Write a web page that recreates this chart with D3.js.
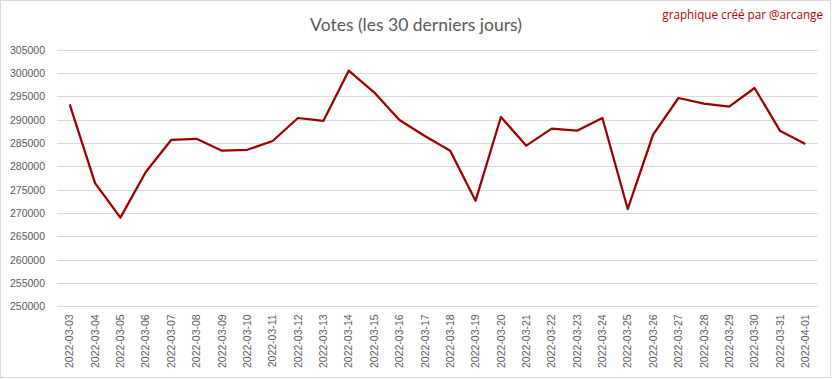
<!DOCTYPE html>
<html><head><meta charset="utf-8">
<script src="https://cdn.jsdelivr.net/npm/d3@7"></script>
<style>body{margin:0;background:#fff}svg{display:block}</style>
</head><body>
<svg id="chart" width="832" height="379"></svg>
<script>
const dates = ["2022-03-03","2022-03-04","2022-03-05","2022-03-06","2022-03-07","2022-03-08","2022-03-09","2022-03-10","2022-03-11","2022-03-12","2022-03-13","2022-03-14","2022-03-15","2022-03-16","2022-03-17","2022-03-18","2022-03-19","2022-03-20","2022-03-21","2022-03-22","2022-03-23","2022-03-24","2022-03-25","2022-03-26","2022-03-27","2022-03-28","2022-03-29","2022-03-30","2022-03-31","2022-04-01"];
const votes = [293300,276400,269000,278800,285650,285900,283350,283550,285430,290360,289720,300500,295870,289930,286500,283350,272600,290580,284430,288070,287640,290360,270860,286780,294650,293430,292790,296790,287640,284790];
const yTicks = [250000,255000,260000,265000,270000,275000,280000,285000,290000,295000,300000,305000];
const title = "Votes (les 30 derniers jours)";
const credit = "graphique créé par @arcange";

(function(){
const svg = d3.select("#chart");
const W = 832, H = 379;
const mL = 57, mR = 818, mT = 49.7, mB = 306.3;

svg.append("rect").attr("x",0.5).attr("y",0.5).attr("width",W-2).attr("height",H-2)
  .attr("fill","#fff").attr("stroke","#d9d9d9");

const x = d3.scaleBand().domain(dates).range([mL,mR]);
const y = d3.scaleLinear().domain([250000,305000]).range([mB,mT]);

svg.append("g").selectAll("line").data(yTicks).join("line")
  .attr("x1",mL).attr("x2",mR)
  .attr("y1",d=>Math.round(y(d))+0.5).attr("y2",d=>Math.round(y(d))+0.5)
  .attr("stroke","#d9d9d9").attr("stroke-width",1);

const yAxis = d3.axisLeft(y).tickValues(yTicks).tickSize(0).tickPadding(0).tickFormat(d3.format("d"));
const gy = svg.append("g").attr("transform",`translate(${mL-12},0)`).call(yAxis);
gy.select(".domain").remove();
gy.selectAll("text").attr("fill","#595959").style("font-family","Liberation Sans, Arial, sans-serif").style("font-size","10.5px");

const xAxis = d3.axisBottom(x).tickSize(0).tickPadding(0);
const gx = svg.append("g").attr("transform",`translate(0,${mB})`).call(xAxis);
gx.select(".domain").remove();
gx.selectAll("text").attr("fill","#595959")
  .style("font-family","Liberation Sans, Arial, sans-serif").style("font-size","10.5px")
  .attr("text-anchor","end").attr("dy","0.35em")
  .attr("transform","translate(0,8) rotate(-90)").attr("x",0).attr("y",0);

const line = d3.line().x((d,i)=>x(dates[i])+x.bandwidth()/2).y(d=>y(d));
svg.append("path").datum(votes).attr("d",line).attr("fill","none")
  .attr("stroke","#990000").attr("stroke-width",2.25).attr("stroke-linejoin","round");

svg.append("text").attr("x",416).attr("y",31).attr("text-anchor","middle")
  .attr("fill","#595959").style("font-family","Lato, sans-serif").style("font-size","17.5px").text(title);
svg.append("text").attr("x",823).attr("y",19).attr("text-anchor","end")
  .attr("fill","#c00000").style("font-family","Open Sans, sans-serif").style("font-size","11.7px").text(credit);
})();
</script>
</body></html>
